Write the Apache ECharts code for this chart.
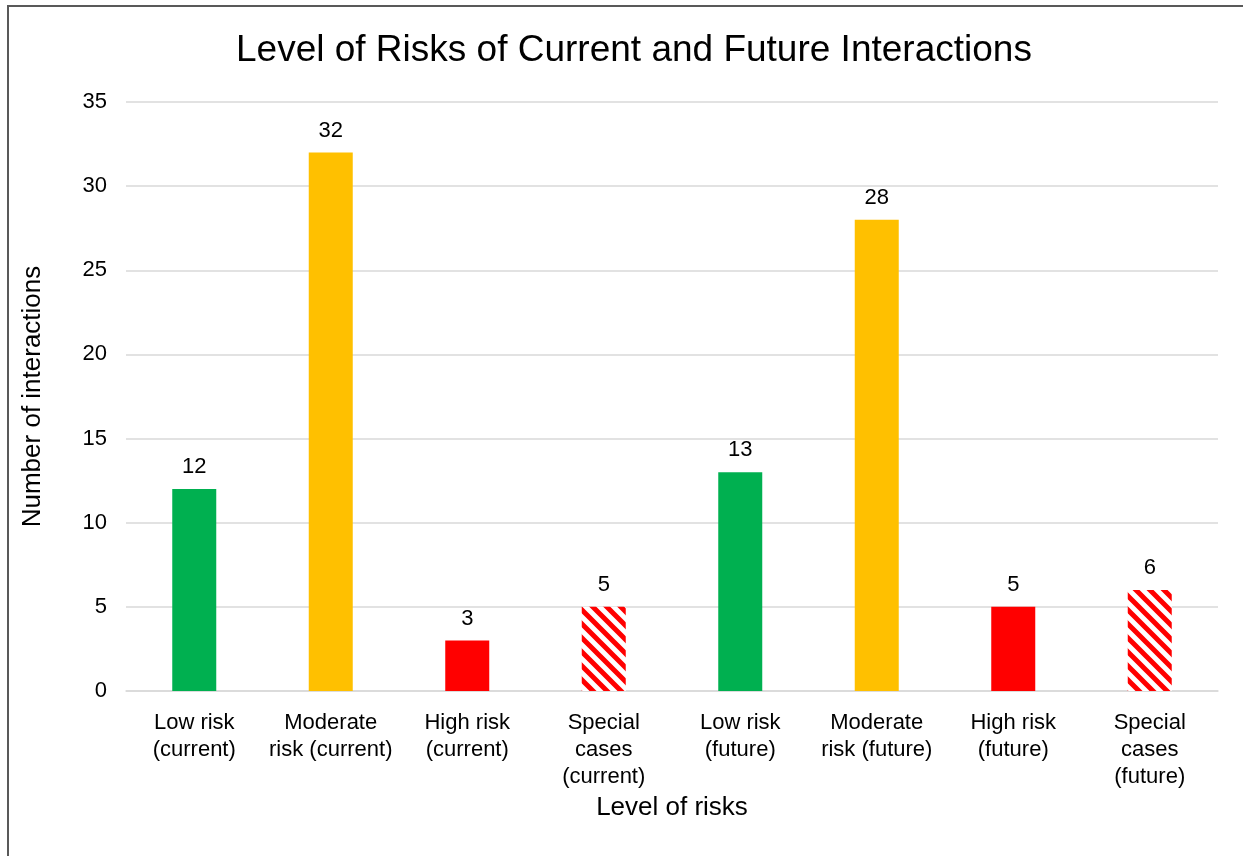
<!DOCTYPE html>
<html>
<head>
<meta charset="utf-8">
<script src="https://cdn.jsdelivr.net/npm/echarts@6/dist/echarts.min.js"></script>
<style>
  html, body { margin: 0; padding: 0; background: #fff; }
  #chart { width: 1243px; height: 856px; }
</style>
</head>
<body>
<div id="chart"></div>
<script>
// Risk categories and interaction counts
const categories = [
  'Low risk\n(current)', 'Moderate\nrisk (current)', 'High risk\n(current)', 'Special\ncases\n(current)',
  'Low risk\n(future)', 'Moderate\nrisk (future)', 'High risk\n(future)', 'Special\ncases\n(future)'
];
const interactions = [12, 32, 3, 5, 13, 28, 5, 6];
const riskLevel = ['low', 'moderate', 'high', 'special', 'low', 'moderate', 'high', 'special'];
const yTicks = [0, 5, 10, 15, 20, 25, 30, 35];

// Diagonal red/white stripes for the special cases
function stripePattern() {
  const s = 14;
  const c = document.createElement('canvas');
  c.width = s; c.height = s;
  const g = c.getContext('2d');
  g.fillStyle = '#fff';
  g.fillRect(0, 0, s, s);
  g.strokeStyle = '#ff0000';
  g.lineWidth = 5;
  g.beginPath();
  g.moveTo(-s, -s); g.lineTo(2 * s, 2 * s);
  g.moveTo(-s, 0); g.lineTo(s, 2 * s);
  g.moveTo(0, -s); g.lineTo(2 * s, s);
  g.stroke();
  return c;
}

const fills = {
  low: '#00b050',
  moderate: '#ffc000',
  high: '#ff0000',
  special: { image: stripePattern(), repeat: 'repeat' }
};

const chart = echarts.init(document.getElementById('chart'));
const font = 'Liberation Sans, Arial, sans-serif';

chart.setOption({
  animation: false,
  textStyle: { fontFamily: font },
  graphic: [{
    type: 'rect',
    shape: { x: 8, y: 6, width: 1300, height: 900 },
    style: { fill: 'none', stroke: '#595959', lineWidth: 2 },
    silent: true
  }],
  title: {
    text: 'Level of Risks of Current and Future Interactions',
    left: 231,
    top: 27,
    textStyle: { fontFamily: font, fontSize: 37, fontWeight: 'normal', color: '#000' }
  },
  grid: { left: 126, right: 25, top: 102, bottom: 165 },
  xAxis: {
    type: 'category',
    data: categories,
    name: 'Level of risks',
    nameLocation: 'middle',
    nameGap: 80,
    nameTextStyle: { fontFamily: font, fontSize: 26, color: '#000' },
    axisLine: { lineStyle: { color: '#d9d9d9', width: 1.5 } },
    axisTick: { show: false },
    axisLabel: { fontFamily: font, fontSize: 22, color: '#000', lineHeight: 27, margin: 18, interval: 0 }
  },
  yAxis: {
    type: 'value',
    min: 0,
    max: 35,
    interval: 5,
    name: 'Number of interactions',
    nameLocation: 'middle',
    nameGap: 80,
    nameTextStyle: { fontFamily: font, fontSize: 26, color: '#000' },
    axisLine: { show: false },
    axisTick: { show: false },
    axisLabel: {
      fontFamily: font, fontSize: 22, color: '#000', margin: 19,
      formatter: v => (yTicks.includes(v) ? String(v) : '')
    },
    splitLine: { lineStyle: { color: '#d9d9d9', width: 1.5 } }
  },
  series: [{
    type: 'bar',
    barWidth: 44,
    data: interactions.map((v, i) => ({ value: v, itemStyle: { color: fills[riskLevel[i]] } })),
    label: {
      show: true,
      position: 'top',
      distance: 11,
      fontFamily: font,
      fontSize: 22,
      color: '#000'
    }
  }]
});
</script>
</body>
</html>
